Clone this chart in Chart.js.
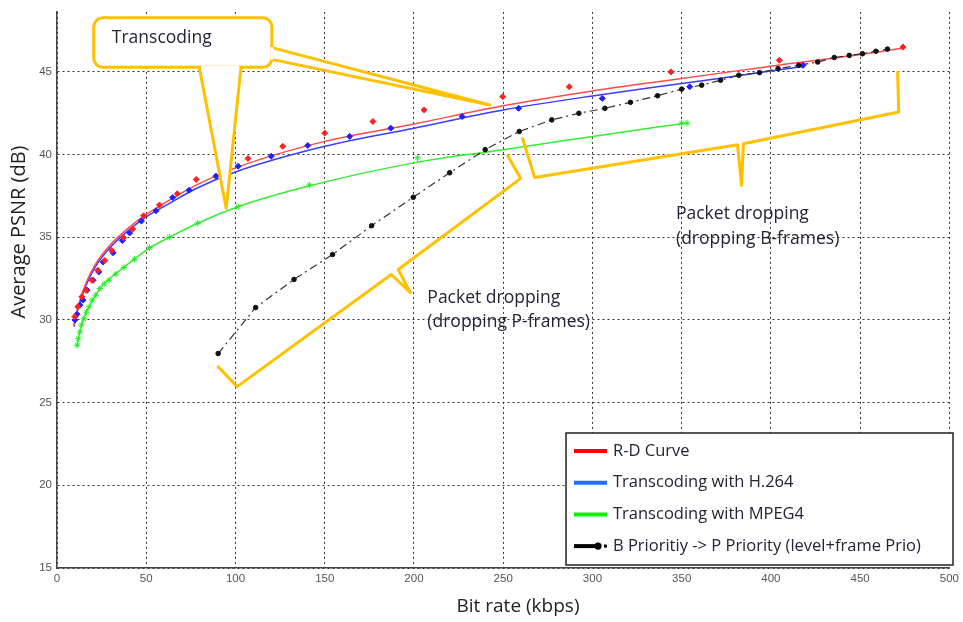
<!DOCTYPE html>
<html>
<head>
<meta charset="utf-8">
<script src="https://cdn.jsdelivr.net/npm/chart.js@4.4.1/dist/chart.umd.min.js"></script>
<style>
  html, body { margin: 0; padding: 0; background: #fff; }
  #wrap { width: 963px; height: 622px; }
</style>
</head>
<body>
<div id="wrap"><canvas id="psnr" width="963" height="622"></canvas></div>
<script>
// ---- data (bit rate kbps / PSNR dB) ----
const seriesNames = ["R-D Curve", "Transcoding with H.264", "Transcoding with MPEG4", "B Prioritiy -> P Priority (level+frame Prio)"];

const rdCurveX = [9.5, 12, 16.5, 22, 29.5, 38.8, 49.6, 63, 78, 100, 150, 200, 250, 300, 350, 400, 450, 474];
const rdCurveY = [29.7, 30.9, 32.3, 33.45, 34.5, 35.45, 36.35, 37.25, 38.15, 39.2, 40.8, 41.85, 42.95, 43.85, 44.6, 45.35, 46.05, 46.45];
const rdPointsX = [10, 11.7, 13.9, 16.2, 19.5, 22.9, 26.8, 30.7, 37.3, 42.4, 48.5, 57.4, 67.4, 78, 107, 126.5, 150, 177, 205.7, 249.7, 287, 344, 404.7, 474];
const rdPointsY = [30.2, 30.8, 31.4, 31.8, 32.4, 33.0, 33.6, 34.2, 34.97, 35.5, 36.3, 36.95, 37.63, 38.5, 39.76, 40.5, 41.3, 42.0, 42.7, 43.5, 44.1, 45.0, 45.7, 46.5];

const h264CurveX = [9.5, 12, 16.5, 22, 29.5, 38.8, 49.6, 63, 78, 100, 150, 200, 250, 300, 350, 400, 418];
const h264CurveY = [29.6, 30.75, 32.15, 33.3, 34.35, 35.3, 36.2, 37.05, 37.95, 38.95, 40.5, 41.6, 42.7, 43.55, 44.3, 45.05, 45.33];
const h264PointsX = [10, 11.2, 12.8, 14.6, 16.9, 20.2, 23.4, 25.8, 31.4, 36.6, 40.7, 47.3, 55.5, 64.8, 74, 89, 101.5, 120, 140.5, 164, 187, 227, 258.6, 305.5, 354.5, 418];
const h264PointsY = [30.0, 30.35, 30.9, 31.2, 31.8, 32.4, 32.9, 33.5, 34.06, 34.8, 35.26, 35.98, 36.6, 37.4, 37.85, 38.7, 39.3, 39.9, 40.55, 41.1, 41.6, 42.3, 42.8, 43.4, 44.1, 45.4];

const mpeg4CurveX = [11.2, 12.8, 15, 18, 21.7, 26.4, 32.9, 43.5, 51.8, 63, 78.8, 101.5, 141, 200, 250, 300, 352];
const mpeg4CurveY = [28.4, 29.3, 30.1, 30.8, 31.5, 32.2, 32.8, 33.7, 34.35, 35.0, 35.85, 36.85, 38.1, 39.5, 40.3, 41.1, 41.9];
const mpeg4PointsX = [11.3, 11.9, 12.8, 13.7, 15, 16.5, 18, 19.7, 21.7, 24, 26.4, 29.2, 32.9, 37.5, 43.5, 51.8, 63, 78.8, 101.5, 141.4, 202, 350, 353];
const mpeg4PointsY = [28.47, 28.87, 29.27, 29.7, 30.07, 30.47, 30.8, 31.2, 31.5, 31.9, 32.17, 32.4, 32.77, 33.17, 33.67, 34.37, 35.0, 35.85, 36.85, 38.16, 39.8, 41.9, 41.9];

const prioX = [90.3, 111.3, 132.8, 154.4, 176.3, 199.6, 220, 239.9, 259, 277.2, 292.4, 307, 321.3, 336.5, 350, 361.2, 371.8, 382, 393.6, 404, 415.6, 426.2, 435.5, 443.9, 451.3, 458.8, 465.3];
const prioY = [27.97, 30.75, 32.45, 33.96, 35.7, 37.42, 38.9, 40.3, 41.4, 42.1, 42.5, 42.8, 43.16, 43.56, 43.96, 44.2, 44.5, 44.8, 44.96, 45.2, 45.4, 45.6, 45.87, 46.0, 46.1, 46.25, 46.38];

const xTitle = "Bit rate (kbps)";
const yTitle = "Average PSNR (dB)";

// callout shapes (in axis units so they go through the scales)
const ORANGE = "#ffc000";
const callouts = {
  box: { x1: 20.6, x2: 120.4, y1: 48.27, y2: 45.28, text: "Transcoding", tx: 30.7, ty: 47.07 },
  pointerA: [[79.7, 45.28], [94.8, 36.76], [103.1, 45.28]],
  pointerB: [[120.4, 46.47], [242.5, 43.0], [120.4, 45.76]],
  braceP: [[90.3, 27.17], [100.9, 25.97], [187.3, 32.75], [197.9, 31.67], [191.2, 33.05], [259.8, 38.56], [252.5, 39.94]],
  braceB: [[260.9, 40.96], [267.6, 38.62], [381.3, 40.6], [383.5, 38.14], [384.6, 40.66], [471.6, 42.58], [471.0, 44.98]],
  labels: [
    { x: 207.5, y: 31.35, lines: ["Packet dropping", "(dropping P-frames)"] },
    { x: 346.8, y: 36.4, lines: ["Packet dropping", "(dropping B-frames)"] }
  ]
};

const zip = (xs, ys) => xs.map((x, i) => ({ x: x, y: ys[i] }));

const curve = (label, xs, ys, color, order) => ({
  label: label, data: zip(xs, ys), borderColor: color, borderWidth: 1.5,
  pointRadius: 0, cubicInterpolationMode: "monotone", fill: false, order: order
});
const marks = (xs, ys, color, style, r, order) => ({
  data: zip(xs, ys), showLine: false, pointStyle: style, pointRadius: r,
  pointBackgroundColor: color, pointBorderColor: color, pointBorderWidth: 1, order: order
});

const callout_plugin = {
  id: "callouts",
  afterDatasetsDraw(chart) {
    const ctx = chart.ctx, sx = chart.scales.x, sy = chart.scales.y;
    const P = p => [sx.getPixelForValue(p[0]), sy.getPixelForValue(p[1])];
    ctx.save();
    ctx.strokeStyle = ORANGE; ctx.lineWidth = 3; ctx.lineJoin = "round"; ctx.lineCap = "round";
    ctx.fillStyle = "#fff";
    // rounded box
    const b = callouts.box;
    const bx1 = sx.getPixelForValue(b.x1), bx2 = sx.getPixelForValue(b.x2);
    const by1 = sy.getPixelForValue(b.y1), by2 = sy.getPixelForValue(b.y2);
    ctx.beginPath();
    ctx.roundRect(bx1, by1, bx2 - bx1, by2 - by1, 9);
    ctx.fill(); ctx.stroke();
    [callouts.pointerA, callouts.pointerB].forEach(tri => {
      const pts = tri.map(P);
      ctx.beginPath();
      ctx.moveTo(pts[0][0], pts[0][1]); ctx.lineTo(pts[1][0], pts[1][1]); ctx.lineTo(pts[2][0], pts[2][1]);
      ctx.fill(); ctx.stroke();
    });
    // cover the joint between box and pointers
    [callouts.pointerA, callouts.pointerB].forEach(tri => {
      const a = P(tri[0]), c = P(tri[2]);
      ctx.beginPath(); ctx.strokeStyle = "#fff"; ctx.lineWidth = 3.2;
      ctx.moveTo(a[0] + (c[0] - a[0]) * 0.08, a[1] + (c[1] - a[1]) * 0.08);
      ctx.lineTo(a[0] + (c[0] - a[0]) * 0.92, a[1] + (c[1] - a[1]) * 0.92);
      ctx.stroke();
    });
    ctx.strokeStyle = ORANGE; ctx.lineWidth = 3;
    [callouts.braceP, callouts.braceB].forEach(br => {
      const pts = br.map(P);
      ctx.beginPath();
      ctx.moveTo(pts[0][0], pts[0][1]);
      for (let i = 1; i < pts.length; i++) ctx.lineTo(pts[i][0], pts[i][1]);
      ctx.stroke();
    });
    ctx.fillStyle = "#23233a";
    ctx.font = "17.5px 'Open Sans'";
    ctx.textBaseline = "middle"; ctx.textAlign = "left";
    const t = P([b.tx, b.ty]);
    ctx.fillText(b.text, t[0], t[1]);
    callouts.labels.forEach(l => {
      const p = P([l.x, l.y]);
      l.lines.forEach((s, i) => ctx.fillText(s, p[0], p[1] + i * 24.5));
    });
    ctx.restore();
  }
};

const frame_plugin = {
  id: "frame",
  afterDraw(chart) {
    const ctx = chart.ctx;
    ctx.save();
    // axis titles
    ctx.fillStyle = "#222";
    ctx.textAlign = "center"; ctx.textBaseline = "middle";
    ctx.font = "19px 'Open Sans'";
    ctx.fillText(xTitle, 518, 607);
    ctx.translate(19, 232); ctx.rotate(-Math.PI / 2);
    ctx.font = "20px 'Open Sans'";
    ctx.fillText(yTitle, 0, 0);
    ctx.restore();

    // legend box
    ctx.save();
    const lx = 566, ly = 433, lw = 387, lh = 132;
    ctx.fillStyle = "#fff"; ctx.fillRect(lx, ly, lw, lh);
    ctx.strokeStyle = "#222"; ctx.lineWidth = 1.5; ctx.strokeRect(lx, ly, lw, lh);
    const swatch = ["#ff0000", "#1a6dff", "#11ee11", "#000"];
    ctx.font = "16.5px 'Open Sans'"; ctx.textBaseline = "middle"; ctx.textAlign = "left";
    seriesNames.forEach((name, i) => {
      const y = 451 + i * 31.7;
      ctx.strokeStyle = swatch[i]; ctx.lineWidth = 4; ctx.lineCap = "butt";
      ctx.beginPath(); ctx.moveTo(574, y); ctx.lineTo(i === 3 ? 598 : 607, y); ctx.stroke();
      if (i === 3) {
        ctx.fillStyle = "#000";
        ctx.beginPath(); ctx.arc(598, y, 3.6, 0, Math.PI * 2); ctx.fill();
        ctx.fillRect(604, y - 1.5, 3, 3);
      }
      ctx.fillStyle = "#23233a";
      ctx.fillText(name, 613, y);
    });
    ctx.restore();
  }
};

new Chart(document.getElementById("psnr"), {
  type: "line",
  data: {
    datasets: [
      marks(prioX, prioY, "#111", "circle", 2.3, 1),
      marks(rdPointsX, rdPointsY, "#ff2020", "rectRot", 3, 2),
      marks(h264PointsX, h264PointsY, "#2020ff", "rectRot", 3, 3),
      marks(mpeg4PointsX, mpeg4PointsY, "#22ee22", "star", 3.2, 4),
      Object.assign(curve(seriesNames[3], prioX, prioY, "#333", 5),
        { borderDash: [8, 4, 2, 4], borderWidth: 1.2, cubicInterpolationMode: "default", tension: 0 }),
      curve(seriesNames[0], rdCurveX, rdCurveY, "#ff4a4a", 6),
      curve(seriesNames[1], h264CurveX, h264CurveY, "#3c3cff", 7),
      curve(seriesNames[2], mpeg4CurveX, mpeg4CurveY, "#33ee33", 8)
    ]
  },
  options: {
    responsive: false,
    animation: false,
    layout: { padding: { left: 0, top: 7, right: 9, bottom: 0 } },
    plugins: { legend: { display: false }, tooltip: { enabled: false } },
    scales: {
      x: {
        type: "linear", min: 0, max: 500,
        ticks: { stepSize: 50, color: "#555", padding: 4, font: { family: "'Liberation Sans'", size: 11.5 } },
        grid: { color: "#333", lineWidth: 1, drawTicks: false },
        border: { color: "#444", width: 1.5, dash: [2, 3] },
        afterFit: s => { s.height = 54; }
      },
      y: {
        type: "linear", min: 15, max: 48.63,
        ticks: { stepSize: 5, includeBounds: false, color: "#555", padding: 5, font: { family: "'Liberation Sans'", size: 11.5 } },
        afterBuildTicks: s => { s.ticks = s.ticks.filter(t => t.value % 5 === 0); },
        grid: { color: "#333", lineWidth: 1, drawTicks: false },
        border: { color: "#444", width: 1.5, dash: [2, 3] },
        afterFit: s => { s.width = 57; }
      }
    }
  },
  plugins: [callout_plugin, frame_plugin]
});
</script>
</body>
</html>
